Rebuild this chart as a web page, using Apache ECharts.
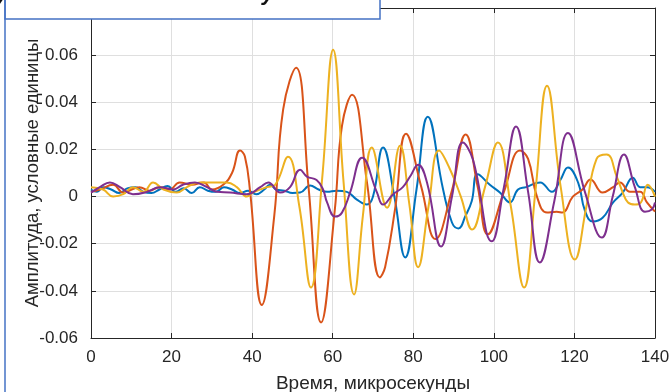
<!DOCTYPE html>
<html>
<head>
<meta charset="utf-8">
<script src="https://cdn.jsdelivr.net/npm/echarts@6/dist/echarts.min.js"></script>
<style>
  html, body { margin: 0; padding: 0; background: #fff; }
  #chart { width: 672px; height: 392px; }
</style>
</head>
<body>
<div id="chart"></div>
<script>
// Time axis (microseconds) and amplitudes for each of the four traces
const t1 = [0, 1.5, 3, 5, 7, 9, 11, 13, 15, 17, 19, 21, 23, 25, 27, 29, 31, 33, 35, 37, 39, 41, 43, 44.4, 46, 48, 50, 51.9, 54.4, 56.5, 58.6, 61, 63.5, 66, 68.5, 70, 72.5, 75.3, 78, 80.8, 83.6, 87.4, 89.6, 91.2, 93, 94.5, 96, 99, 101.5, 104, 106, 108, 111.5, 114.4, 116.5, 118.4, 120.9, 122.6, 124.6, 127, 129.6, 132, 134.5, 136.3, 138, 140];
const a1 = [0.003, 0.002, 0.004, 0.003, 0.0015, 0.0035, 0.004, 0.002, 0.0015, 0.003, 0.0045, 0.002, 0.0035, 0.0015, 0.004, 0.0025, 0.002, 0.004, 0.003, 0.0015, 0.0025, 0.001, 0.003, 0.005, 0.003, 0.0025, 0.0015, 0.0017, 0.0047, 0.003, 0.002, 0.0025, 0.002, -0.0013, -0.0034, 0, 0.0208, 0.000, -0.0258, 0.003, 0.0339, 0.003, -0.011, -0.0135, -0.008, -0.002, 0.0095, 0.005, 0.0017, -0.0025, 0.003, 0.004, 0.006, 0.002, 0.007, 0.0123, 0.006, -0.006, -0.0106, -0.009, -0.0025, 0.0017, 0.008, 0.004, 0.004, 0.002];

const t2 = [0, 2.2, 5.5, 8, 12, 14.5, 17, 19.5, 22, 25, 28, 30, 32.8, 35, 37, 38.2, 39.5, 42.4, 45.5, 47.7, 50.9, 54, 57.1, 60.5, 62.3, 64.8, 68.5, 71.7, 73, 75.5, 78.2, 82, 85.5, 89.5, 93, 96, 98.5, 102.5, 106.5, 108.5, 110.7, 113.2, 115.6, 117, 119.6, 122, 124, 127, 129.6, 131.3, 133.8, 136.3, 138, 140];
const a2 = [0.002, 0.003, 0.005, 0.0017, 0.004, 0.0025, 0.004, 0.003, 0.006, 0.005, 0.006, 0.003, 0.005, 0.010, 0.0195, 0.017, 0.002, -0.046, -0.008, 0.037, 0.0547, 0.004, -0.0534, -0.006, 0.030, 0.0432, 0.006, -0.0343, -0.030, -0.005, 0.0267, 0.004, -0.018, 0.002, 0.0263, 0.004, -0.016, 0.002, 0.0195, 0.016, 0.0, -0.0068, -0.0064, -0.0068, 0.0, 0.003, 0.0072, 0.0017, 0.004, 0.006, 0.002, 0.002, -0.0025, -0.0064];

const t3 = [0, 3, 5.5, 8, 10.4, 13, 15.4, 18, 21.3, 23.8, 27, 30, 33.7, 36.2, 38.7, 40.2, 43.7, 45.7, 48.9, 51.7, 54.6, 57.4, 60.1, 62.7, 65.3, 67.5, 69.7, 73.5, 76.7, 79, 81.2, 83.8, 86.4, 89, 91.8, 94.6, 97.8, 101, 104.2, 107.5, 110.3, 113.2, 116.6, 120.1, 123, 125.5, 128, 130.5, 132, 133.3, 135, 136.5, 138.2, 140];
const a3 = [0.004, 0.003, 0, 0.001, 0.004, 0.002, 0.006, 0.003, 0.0017, 0.004, 0.006, 0.006, 0.006, 0.004, 0, 0.0017, 0.004, 0.005, 0.0169, -0.004, -0.0386, 0.008, 0.0623, 0.006, -0.0415, -0.008, 0.0208, -0.0047, 0.0216, -0.003, -0.030, -0.004, 0.0195, 0.012, 0.0, -0.014, 0.004, 0.0229, -0.004, -0.0386, 0.002, 0.047, 0.004, -0.0267, -0.004, 0.016, 0.0178, 0.0085, 0.0017, -0.0025, -0.0034, -0.0025, 0.005, 0];

const t4 = [0, 2.2, 4.7, 7.2, 10.4, 13.9, 17.1, 20.4, 22.8, 25.8, 28.8, 31.3, 34.5, 38.7, 42, 44, 47, 49.4, 51.9, 53.6, 56, 57.6, 58.6, 60.6, 62.3, 64.3, 67.3, 71, 72.5, 75, 77.4, 79.2, 81.2, 83.4, 86.9, 89.6, 92.3, 94.8, 99.5, 102.5, 105.5, 108.5, 111.4, 115, 118.4, 122.6, 126.8, 129.5, 132.3, 135, 137.5, 139.2, 140];
const a4 = [0.0017, 0.004, 0.006, 0.004, 0.001, 0.002, 0.004, 0.003, 0.005, 0.006, 0.004, 0.002, 0.0017, 0.001, 0.004, 0.006, 0.0017, 0.004, 0.0114, 0.0085, 0.007, 0.003, -0.0025, -0.0085, -0.0068, 0.0017, 0.0165, 0.0017, -0.0034, 0.001, 0.004, 0.0085, 0.0135, 0.006, -0.0212, 0.000, 0.0229, 0.0157, -0.019, 0.004, 0.0297, 0.002, -0.028, -0.002, 0.027, 0.002, -0.0174, 0.000, 0.0178, 0.004, -0.0064, -0.0055, -0.0025];

const xTicks = { min: 0, max: 140, step: 20 };
const yTicks = { min: -0.06, max: 0.08, step: 0.02 };

const colors = ['#0072BD', '#D95319', '#EDB120', '#7E2F8E'];
const font = '"Liberation Sans", Arial, Helvetica, sans-serif';
const ink = '#262626';

function pairs(t, a) { return t.map((x, i) => [x, a[i]]); }

const traces = [[t1, a1], [t2, a2], [t3, a3], [t4, a4]];

const chart = echarts.init(document.getElementById('chart'), null, { renderer: 'canvas' });

const fmtY = v => {
  if (Math.abs(v) < 1e-9) return '0';
  if (v > 0.07) return '';
  return v.toFixed(2);
};

chart.setOption({
  animation: false,
  backgroundColor: '#ffffff',
  grid: { left: 91, right: 17, top: 8, bottom: 54, containLabel: false, outerBoundsMode: 'none' },
  xAxis: [{
    type: 'value', min: xTicks.min, max: xTicks.max, interval: xTicks.step,
    name: 'Время, микросекунды', nameLocation: 'middle', nameGap: 36, nameMoveOverlap: false,
    nameTextStyle: { color: ink, fontFamily: font, fontSize: 19 },
    axisLine: { show: true, onZero: false, lineStyle: { color: ink, width: 1 } },
    axisTick: { show: true, inside: true, length: 5, lineStyle: { color: ink } },
    axisLabel: { color: ink, fontFamily: font, fontSize: 17, margin: 11 },
    splitLine: { show: true, lineStyle: { color: '#dfdfdf', width: 1 } }
  }, {
    type: 'value', position: 'top', min: xTicks.min, max: xTicks.max, interval: xTicks.step,
    axisLine: { show: true, onZero: false, lineStyle: { color: ink, width: 1 } },
    axisTick: { show: true, inside: true, length: 5, lineStyle: { color: ink } },
    axisLabel: { show: false }, splitLine: { show: false }
  }],
  yAxis: [{
    type: 'value', min: yTicks.min, max: yTicks.max, interval: yTicks.step,
    name: 'Амплитуда, условные единицы', nameLocation: 'middle', nameGap: 49, nameMoveOverlap: false,
    nameTextStyle: { color: ink, fontFamily: font, fontSize: 18.5 },
    axisLine: { show: true, onZero: false, lineStyle: { color: ink, width: 1 } },
    axisTick: { show: true, inside: true, length: 5, lineStyle: { color: ink } },
    axisLabel: { color: ink, fontFamily: font, fontSize: 17, margin: 13, formatter: fmtY },
    splitLine: { show: true, lineStyle: { color: '#dfdfdf', width: 1 } }
  }, {
    type: 'value', position: 'right', min: yTicks.min, max: yTicks.max, interval: yTicks.step,
    axisLine: { show: true, onZero: false, lineStyle: { color: ink, width: 1 } },
    axisTick: { show: true, inside: true, length: 5, lineStyle: { color: ink } },
    axisLabel: { show: false }, splitLine: { show: false }
  }],
  series: traces.map((tr, i) => ({
    type: 'line',
    data: pairs(tr[0], tr[1]),
    showSymbol: false,
    smooth: 0.45,
    clip: true,
    lineStyle: { color: colors[i], width: 2 },
    z: 2 + i
  })),
  graphic: [
    { type: 'rect', z: 100, shape: { x: 5, y: -6, width: 375, height: 25 },
      style: { fill: '#ffffff', stroke: '#4472C4', lineWidth: 1.5 } },
    { type: 'line', z: 101, shape: { x1: 5, y1: 0, x2: 5, y2: 392 },
      style: { stroke: '#4472C4', lineWidth: 1.5 } },
    { type: 'text', z: 102, left: -4, top: -17,
      style: { text: 'у', font: 'italic bold 22px ' + font, fill: '#111' } },
    { type: 'text', z: 102, left: 262, top: -17,
      style: { text: 'у', font: 'italic bold 22px ' + font, fill: '#111' } }
  ]
});
</script>
</body>
</html>
